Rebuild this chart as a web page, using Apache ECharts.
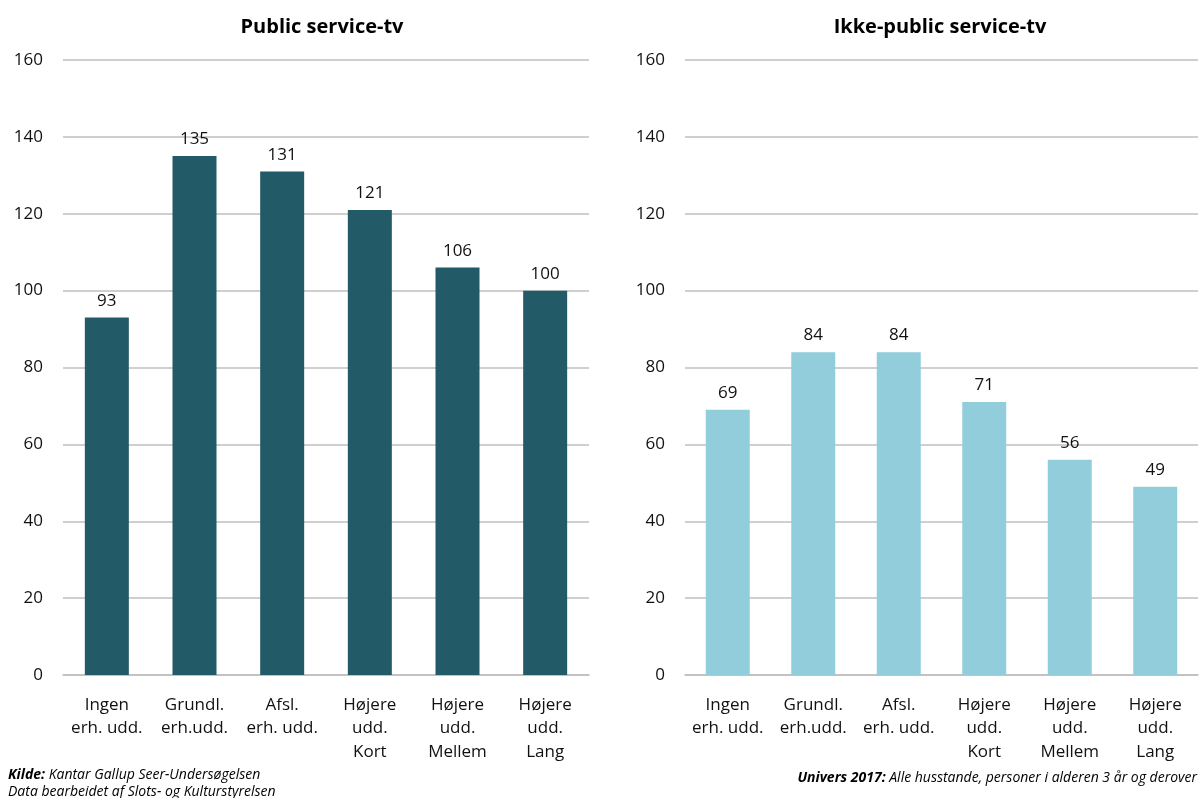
<!DOCTYPE html>
<html>
<head>
<meta charset="utf-8">
<script src="https://cdn.jsdelivr.net/npm/echarts@6/dist/echarts.min.js"></script>
<style>
  html, body { margin: 0; padding: 0; background: #fff; }
  #chart { width: 1200px; height: 798px; }
</style>
</head>
<body>
<div id="chart"></div>
<script>
// Data
var categories = ['Ingen\nerh. udd.', 'Grundl.\nerh.udd.', 'Afsl.\nerh. udd.', 'Højere\nudd.\nKort', 'Højere\nudd.\nMellem', 'Højere\nudd.\nLang'];
var publicService = [93, 135, 131, 121, 106, 100];
var ikkePublicService = [69, 84, 84, 71, 56, 49];
var yTicks = { min: 0, max: 160, interval: 20 };

var FONT = '"Open Sans", sans-serif';

function xAxisFor(idx) {
  return {
    type: 'category',
    gridIndex: idx,
    data: categories,
    axisTick: { show: false },
    axisLine: { lineStyle: { color: '#bfbfbf', width: 1.5 } },
    axisLabel: { color: '#111', fontSize: 17, fontFamily: FONT, lineHeight: 23.5, margin: 18, interval: 0 }
  };
}
function yAxisFor(idx) {
  return {
    type: 'value',
    gridIndex: idx,
    min: yTicks.min, max: yTicks.max, interval: yTicks.interval,
    axisLine: { show: false },
    axisTick: { show: false },
    splitLine: { lineStyle: { color: '#bfbfbf', width: 1.5 } },
    axisLabel: { color: '#111', fontSize: 17, fontFamily: FONT, margin: 20 }
  };
}
function seriesFor(idx, data, color) {
  return {
    type: 'bar',
    xAxisIndex: idx,
    yAxisIndex: idx,
    data: data,
    barWidth: 44,
    itemStyle: { color: color },
    label: { show: true, position: 'top', distance: 8, color: '#111', fontSize: 17, fontFamily: FONT }
  };
}

// footer text styles
var footB = { fontSize: 14, fontWeight: 'bold', fontStyle: 'italic', color: '#000', fontFamily: FONT, lineHeight: 17 };
var footI = { fontSize: 14, fontWeight: 'normal', fontStyle: 'italic', color: '#000', fontFamily: FONT, lineHeight: 17 };

var chart = echarts.init(document.getElementById('chart'));
chart.setOption({
  animation: false,
  title: [
    { text: 'Public service-tv', left: 322, top: 17, padding: 0, textAlign: 'center',
      textStyle: { fontSize: 20, fontWeight: 'bold', color: '#000', fontFamily: FONT } },
    { text: 'Ikke-public service-tv', left: 940, top: 17, padding: 0, textAlign: 'center',
      textStyle: { fontSize: 20, fontWeight: 'bold', color: '#000', fontFamily: FONT } },
    { text: '{b|Kilde:}{i| Kantar Gallup Seer-Undersøgelsen}\n{i|Data bearbeidet af Slots- og Kulturstyrelsen}',
      left: 8, top: 767, padding: 0,
      textStyle: { fontSize: 14, fontWeight: 'normal', fontStyle: 'italic', fontFamily: FONT, lineHeight: 17,
        rich: { b: footB, i: footI } } },
    { text: '{b|Univers 2017:}{i| Alle husstande, personer i alderen 3 år og derover}',
      right: 3, top: 770, padding: 0,
      textStyle: { fontSize: 14, fontWeight: 'normal', fontStyle: 'italic', fontFamily: FONT,
        rich: { b: footB, i: footI } } }
  ],
  grid: [
    { left: 63, right: 611, top: 60, bottom: 123 },
    { left: 685, right: 2, top: 60, bottom: 123 }
  ],
  xAxis: [xAxisFor(0), xAxisFor(1)],
  yAxis: [yAxisFor(0), yAxisFor(1)],
  series: [
    seriesFor(0, publicService, '#235a67'),
    seriesFor(1, ikkePublicService, '#92cddc')
  ]
});
</script>
</body>
</html>
